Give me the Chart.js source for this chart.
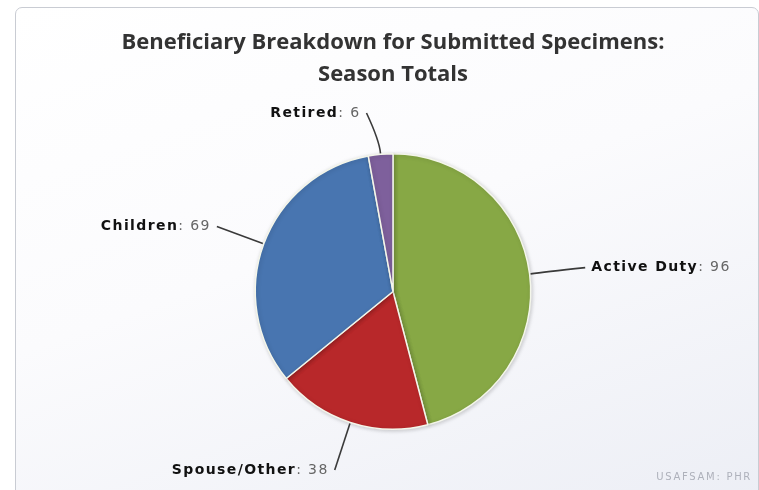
<!DOCTYPE html>
<html>
<head>
<meta charset="utf-8">
<script src="https://cdn.jsdelivr.net/npm/chart.js@4"></script>
<style>
  html, body { margin: 0; padding: 0; background: #fff; }
  #wrap { position: relative; width: 759px; height: 490px; overflow: hidden; }
  #frame {
    position: absolute; left: 15px; top: 7px; width: 742px; height: 500px;
    border: 1px solid #c9ccd3; border-radius: 7px;
    background: linear-gradient(160deg, #ffffff 0%, #fbfbfd 45%, #eceef5 100%);
  }
  #credit {
    position: absolute; right: 7px; top: 471px; letter-spacing: 1.7px;
    font: 10px "DejaVu Sans", sans-serif; color: #aeb1bb;
  }
  canvas { position: absolute; left: 0; top: 0; }
</style>
</head>
<body>
<div id="wrap">
  <div id="frame"></div>
  <canvas id="pieChart" width="759" height="490"></canvas>
  <div id="credit">USAFSAM: PHR</div>
</div>
<script>
// datos del grafico
const categorias = ['Active Duty', 'Spouse/Other', 'Children', 'Retired'];
const valores = [96, 38, 69, 6];
const colores = ['#87a845', '#b8282a', '#4875b0', '#7e609c'];
const titulo = ['Beneficiary Breakdown for Submitted Specimens:', 'Season Totals'];

// sombra suave del pastel
const sombraPlugin = {
    id: 'sombra',
    beforeDatasetsDraw(chart) {
        chart.ctx.save();
        chart.ctx.shadowColor = 'rgba(0,0,0,0.18)';
        chart.ctx.shadowBlur = 4;
        chart.ctx.shadowOffsetX = 1;
        chart.ctx.shadowOffsetY = 1;
    },
    afterDatasetsDraw(chart) {
        chart.ctx.restore();
    }
};

// etiquetas con conectores
const etiquetasPlugin = {
    id: 'etiquetas',
    afterDatasetsDraw(chart) {
        let ctx = chart.ctx;
        let meta = chart.getDatasetMeta(0);
        meta.data.forEach((arc, i) => {
            let p = arc.getProps(['x', 'y', 'outerRadius', 'startAngle', 'endAngle'], true);
            let mid = (p.startAngle + p.endAngle) / 2;
            let cos = Math.cos(mid), sin = Math.sin(mid);
            let izq = cos < 0;
            let r = p.outerRadius;
            let ex = p.x + (r + 1) * cos, ey = p.y + (r + 1) * sin;
            let R = r + 50;
            let ly = p.y + R * sin;
            let dy = ly - p.y;
            let lx = p.x + (izq ? -1 : 1) * Math.sqrt(Math.max(R * R - dy * dy, 0));
            if (izq) lx = Math.min(lx, ex - 14); else lx = Math.max(lx, ex + 14);
            if (!izq) lx += 6;
            ly = Math.max(ly, chart.chartArea.top - 40);
            let bx = p.x + (r + 14) * cos, by = p.y + (r + 14) * sin;

            ctx.save();
            ctx.strokeStyle = '#3a3a3a';
            ctx.lineWidth = 1.6;
            ctx.beginPath();
            ctx.moveTo(ex, ey);
            ctx.quadraticCurveTo(bx, by, lx, ly);
            ctx.stroke();

            let nombre = categorias[i];
            let resto = ': ' + valores[i];
            ctx.textBaseline = 'middle';
            ctx.letterSpacing = '1.4px';
            ctx.font = 'bold 14px "DejaVu Sans", sans-serif';
            let w1 = ctx.measureText(nombre).width;
            ctx.font = '14px "DejaVu Sans", sans-serif';
            let w2 = ctx.measureText(resto).width;
            let tx = izq ? lx - 6 - w1 - w2 : lx + 6;
            ctx.font = 'bold 14px "DejaVu Sans", sans-serif';
            ctx.fillStyle = '#111';
            ctx.fillText(nombre, tx, ly);
            ctx.font = '14px "DejaVu Sans", sans-serif';
            ctx.fillStyle = '#666';
            ctx.fillText(resto, tx + w1, ly);
            ctx.restore();
        });
    }
};

let ctx = document.getElementById('pieChart').getContext('2d');
new Chart(ctx, {
    type: 'pie',
    data: {
        labels: categorias,
        datasets: [{
            data: valores,
            backgroundColor: colores,
            borderColor: '#f4f6ea',
            borderWidth: 1.5
        }]
    },
    options: {
        responsive: false,
        animation: false,
        layout: {
            padding: { left: 27, top: 0, bottom: 60, right: 0 }
        },
        plugins: {
            legend: { display: false },
            tooltip: { enabled: false },
            title: {
                display: true,
                text: titulo,
                color: '#333',
                font: { family: '"Open Sans", sans-serif', size: 22, weight: 'bold', lineHeight: 1.455 },
                padding: { top: 27, bottom: 62 }
            }
        }
    },
    plugins: [sombraPlugin, etiquetasPlugin]
});
</script>
</body>
</html>
